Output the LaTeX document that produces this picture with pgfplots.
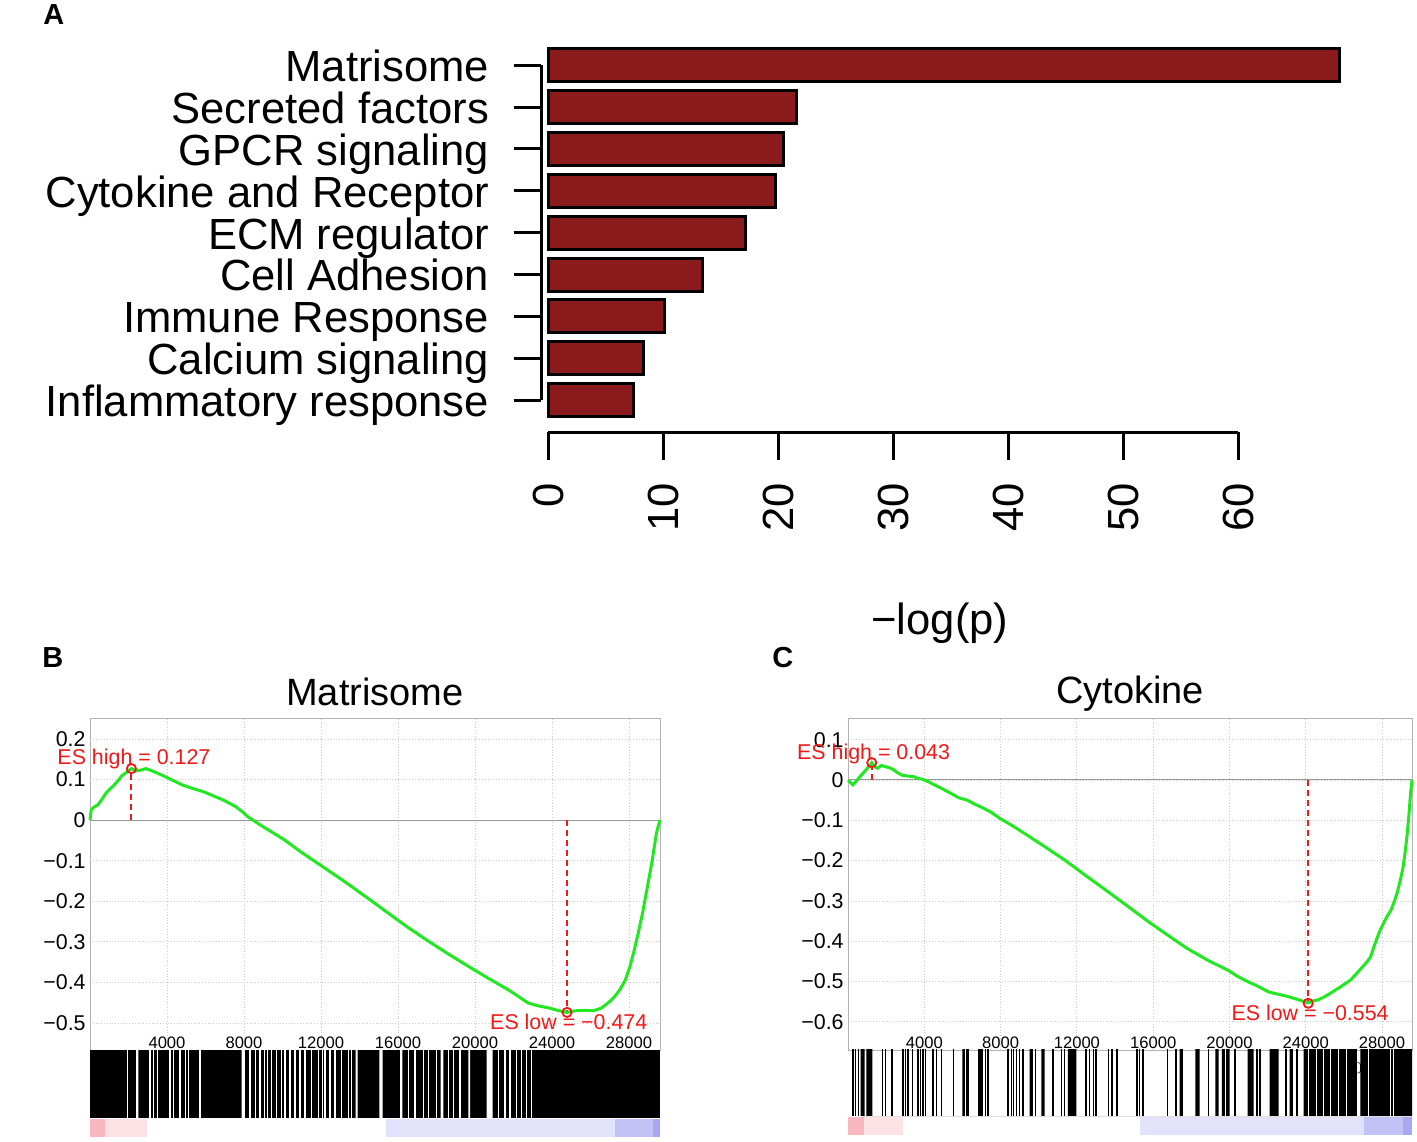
\documentclass[border=0pt]{standalone}
\usepackage{pgfplots}
\pgfplotsset{compat=1.18}
\usepackage{fontspec}
\setmainfont{Liberation Sans}
\definecolor{barred}{RGB}{139,26,28}
\definecolor{esgreen}{RGB}{34,232,34}
\definecolor{esred}{RGB}{242,24,24}
\definecolor{cpink}{RGB}{249,183,191}
\definecolor{clpink}{RGB}{253,226,229}
\definecolor{clav}{RGB}{226,226,251}
\definecolor{cmed}{RGB}{194,194,246}
\definecolor{cdark}{RGB}{168,168,240}
\newcommand\bigfont{\fontsize{21.8}{26}\selectfont}
\newcommand\esfont{\fontsize{10.7}{13}\selectfont}
\begin{document}
\begin{tikzpicture}
\useasboundingbox (0,0) rectangle (708.5pt,-570.5pt);
% ---------------- Panel A ----------------
\begin{axis}[
  at={(274pt,-200pt)}, anchor=south west,
  scale only axis, width=345pt, height=167.35pt,
  xmin=0, xmax=60, ymin=1, ymax=9,
  clip=false,
  axis x line=bottom, axis y line=left,
  axis line style={-, line width=1.5pt},
  axis x line shift=16pt, axis y line shift=3.5pt,
  xtick={0,10,20,30,40,50,60},
  xticklabels={0,10,20,30,40,50,60},
  ytick={1,2,3,4,5,6,7,8,9},
  yticklabels={Inflammatory response, Calcium signaling, Immune Response, Cell Adhesion, ECM regulator, Cytokine and Receptor, GPCR signaling, Secreted factors, Matrisome},
  tick align=outside, major tick length=13.75pt,
  every tick/.style={black, line width=1.5pt},
  tick label style={font=\bigfont},
  xticklabel style={rotate=90, anchor=east, inner sep=0pt},
  yticklabel style={anchor=base east, inner sep=0pt, yshift=-8.2pt},
  xticklabel shift=11.5pt,
  yticklabel shift=12pt,
  xlabel={−log(p)},
  xlabel style={font=\bigfont, at={(axis description cs:0.568,-0.70)}, anchor=base},
]
\addplot[xbar, bar width=16.5pt, bar shift=0pt, fill=barred, draw=black, line width=1.5pt] coordinates {
 (7.4,1) (8.3,2) (10.1,3) (13.4,4) (17.2,5) (19.8,6) (20.5,7) (21.6,8) (68.8,9)};
\end{axis}
% ---------------- Panel B ----------------
\begin{axis}[
  at={(45pt,-525pt)}, anchor=south west,
  scale only axis, width=285pt, height=166pt,
  xmin=0, xmax=29610, ymin=-0.5667, ymax=0.2517,
  clip=false,
  axis line style={draw=black!30, line width=0.5pt},
  xtick={4000,8000,12000,16000,20000,24000,28000},
  xticklabels={4000,8000,12000,16000,20000,24000,28000},
  ytick={-0.5,-0.4,-0.3,-0.2,-0.1,0,0.1,0.2},
  yticklabels={−0.5,−0.4,−0.3,−0.2,−0.1,0,0.1,0.2},
  major tick length=0pt,
  grid=major, grid style={densely dotted, black!20},
  xticklabel style={anchor=south, inner sep=0.6pt, font=\fontsize{8.3}{10}\selectfont},
  yticklabel style={anchor=east, inner sep=0pt, xshift=-2pt, font=\esfont},
  title={Matrisome},
  title style={at={(0.5,1)}, anchor=base, yshift=0.5pt, font=\fontsize{19}{23}\selectfont},
]
\addplot[black!40, line width=0.5pt] coordinates {(0,0) (29610,0)};
\addplot[esred, densely dashed, line width=0.9pt] coordinates {(2150,0) (2150,0.127)};
\addplot[esred, densely dashed, line width=0.9pt] coordinates {(24780,0) (24780,-0.474)};
\addplot[esgreen, line width=1.5pt] coordinates {
(0,0) (60,0.025) (200,0.032) (400,0.037) (600,0.05) (820,0.066) (1000,0.075) (1245,0.086) (1450,0.097) (1670,0.11) (1900,0.118) (2150,0.127) (2400,0.122) (2620,0.123) (2900,0.127) (3200,0.122) (3780,0.11) (4300,0.098) (4830,0.086) (5400,0.077) (5890,0.070) (6400,0.060) (6945,0.049) (7580,0.033) (7900,0.021) (8210,0.008) (8845,-0.012) (9500,-0.031) (10110,-0.049) (11000,-0.080) (12220,-0.119) (13300,-0.154) (14330,-0.189) (15400,-0.226) (16440,-0.262) (17500,-0.296) (18550,-0.328) (19600,-0.359) (20660,-0.389) (21720,-0.418) (22300,-0.436) (22770,-0.451) (23300,-0.458) (23830,-0.463) (24300,-0.469) (24780,-0.474) (25200,-0.470) (25730,-0.469) (26150,-0.470) (26575,-0.463) (27000,-0.447) (27250,-0.435) (27525,-0.418) (27800,-0.395) (28050,-0.361) (28275,-0.32) (28475,-0.279) (28700,-0.23) (28895,-0.180) (29050,-0.14) (29210,-0.098) (29420,-0.033) (29600,0)};
\addplot[only marks, mark=o, mark size=2.3pt, esred, mark options={line width=0.9pt}] coordinates {(2150,0.127) (24780,-0.474)};
\node[esred, anchor=base west, inner sep=0pt, font=\esfont] at (axis cs:-1710,0.136) {ES high = 0.127};
\node[esred, anchor=base west, inner sep=0pt, font=\esfont] at (axis cs:20770,-0.517) {ES low = −0.474};
\end{axis}
% hits B
\begin{axis}[
  at={(45pt,-559pt)}, anchor=south west,
  scale only axis, width=285pt, height=34pt,
  xmin=0, xmax=29610, ymin=0, ymax=1, hide axis,
]
\addplot[fill=black, draw=none] coordinates {(0,1) (29610,1)} \closedcycle;
\addplot[ybar interval, fill=white, draw=none] coordinates {(2390,1) (2510,0) (7880,1) (8050,0) (13800,1) (13907,0) (15030,1) (15205,0) (16105,1) (16225,0) (18220,1) (18355,0) (19655,1) (19740,0) (20607,1) (20918,0)};
\addplot[ycomb, white, line width=0.55pt, no marks] coordinates {
(1958,1) (3117,1) (3290,1) (3515,1) (4156,1) (4329,1) (4676,1) (4970,1) (5108,1) (5715,1) (8312,1) (8606,1) (8830,1) (9057,1) (9230,1) (9437,1) (9697,1) (9957,1) (10130,1) (10390,1) (10650,1) (10910,1) (11170,1) (11515,1) (11862,1) (12070,1) (12208,1) (12468,1) (12728,1) (13073,1) (13420,1) (13594,1) (16537,1) (16884,1) (17316,1) (17576,1) (18010,1) (18615,1) (18875,1) (19220,1) (21212,1) (21560,1) (21820,1) (22165,1) (22425,1) (22685,1) (22945,1)};
\end{axis}
% colour B
\begin{axis}[
  at={(45pt,-568.5pt)}, anchor=south west,
  scale only axis, width=285pt, height=9pt,
  xmin=0, xmax=29610, ymin=0, ymax=1, hide axis,
]
\addplot[fill=cpink, draw=none] coordinates {(0,1) (760,1)} \closedcycle;
\addplot[fill=clpink, draw=none] coordinates {(760,1) (2940,1)} \closedcycle;
\addplot[fill=clav, draw=none] coordinates {(15380,1) (27280,1)} \closedcycle;
\addplot[fill=cmed, draw=none] coordinates {(27280,1) (29250,1)} \closedcycle;
\addplot[fill=cdark, draw=none] coordinates {(29250,1) (29610,1)} \closedcycle;
\end{axis}
% ---------------- Panel C ----------------
\begin{axis}[
  at={(424pt,-525pt)}, anchor=south west,
  scale only axis, width=282pt, height=166pt,
  xmin=0, xmax=29570, ymin=-0.670, ymax=0.1538,
  clip=false,
  axis line style={draw=black!30, line width=0.5pt},
  xtick={4000,8000,12000,16000,20000,24000,28000},
  xticklabels={4000,8000,12000,16000,20000,24000,28000},
  ytick={-0.6,-0.5,-0.4,-0.3,-0.2,-0.1,0,0.1},
  yticklabels={−0.6,−0.5,−0.4,−0.3,−0.2,−0.1,0,0.1},
  major tick length=0pt,
  grid=major, grid style={densely dotted, black!20},
  xticklabel style={anchor=south, inner sep=0.6pt, font=\fontsize{8.3}{10}\selectfont},
  yticklabel style={anchor=east, inner sep=0pt, xshift=-2pt, font=\esfont},
  title={Cytokine},
  title style={at={(0.5,1)}, anchor=base, yshift=1.5pt, font=\fontsize{19}{23}\selectfont},
]
\addplot[black!40, line width=0.5pt] coordinates {(0,0) (29570,0)};
\addplot[esred, densely dashed, line width=0.9pt] coordinates {(1244,0) (1244,0.043)};
\addplot[esred, densely dashed, line width=0.9pt] coordinates {(24128,0) (24128,-0.554)};
\addplot[esgreen, line width=1.5pt] coordinates {
(0,0) (256,-0.012) (450,-0.002) (688,0.012) (850,0.02) (1009,0.029) (1244,0.043) (1400,0.033) (1543,0.029) (1750,0.036) (1970,0.033) (2200,0.03) (2398,0.025) (2600,0.018) (2825,0.012) (3100,0.01) (3466,0.008) (3650,0.004) (3893,0.002) (4200,-0.004) (4534,-0.012) (4950,-0.022) (5389,-0.033) (5800,-0.044) (6244,-0.050) (6650,-0.060) (7098,-0.070) (7500,-0.080) (7953,-0.095) (8600,-0.113) (9235,-0.132) (10300,-0.165) (11372,-0.199) (12400,-0.235) (13509,-0.273) (14600,-0.311) (15646,-0.348) (16700,-0.383) (17782,-0.418) (18850,-0.447) (19919,-0.472) (20450,-0.488) (20987,-0.501) (21500,-0.512) (22056,-0.526) (22600,-0.532) (23124,-0.538) (23600,-0.545) (24128,-0.553) (24400,-0.548) (24620,-0.546) (24900,-0.540) (25260,-0.530) (25800,-0.514) (26329,-0.497) (26650,-0.481) (26970,-0.464) (27200,-0.452) (27397,-0.439) (27600,-0.41) (27824,-0.381) (28050,-0.358) (28252,-0.339) (28466,-0.323) (28650,-0.30) (28786,-0.281) (28950,-0.25) (29107,-0.215) (29220,-0.175) (29321,-0.132) (29420,-0.08) (29492,-0.033) (29570,0)};
\addplot[only marks, mark=o, mark size=2.3pt, esred, mark options={line width=0.9pt}] coordinates {(1244,0.043) (24128,-0.554)};
\node[esred, anchor=base west, inner sep=0pt, font=\esfont] at (axis cs:-2688,0.051) {ES high = 0.043};
\node[esred, anchor=base west, inner sep=0pt, font=\esfont] at (axis cs:20090,-0.596) {ES low = −0.554};
\end{axis}
% hits C
\begin{axis}[
  at={(424pt,-558pt)}, anchor=south west,
  scale only axis, width=282pt, height=33.5pt,
  xmin=0, xmax=29570, ymin=0, ymax=1, hide axis,
]
\addplot[ybar interval, fill=black, draw=none] coordinates {(664,1) (874,0) (961,1) (1276,0) (5993,1) (6343,0) (6815,1) (7077,0) (9523,1) (9698,0) (10134,1) (10310,0) (11532,1) (11969,0) (17386,1) (17560,0) (18207,1) (18435,0) (19255,1) (19430,0) (19605,1) (20008,0) (20950,1) (21266,0) (22105,1) (22576,0) (23153,1) (23327,0) (23887,1) (26682,0) (26856,1) (29570,0)};
\addplot[ycomb, black, line width=0.8pt, no marks] coordinates {
(262,1) (402,1) (542,1) (1800,1) (1974,1) (2306,1) (2883,1) (3023,1) (3145,1) (3372,1) (3669,1) (3791,1) (3931,1) (4071,1) (4456,1) (4630,1) (4892,1) (5539,1) (7216,1) (7339,1) (8387,1) (8561,1) (8684,1) (8823,1) (9000,1) (9174,1) (9838,1) (10746,1) (11183,1) (11358,1) (12492,1) (12668,1) (12878,1) (13017,1) (13664,1) (13855,1) (14101,1) (15150,1) (15290,1) (15464,1) (16757,1) (17211,1) (18906,1) (20303,1) (21440,1) (21614,1) (22978,1) (23537,1)};
\addplot[ycomb, white, line width=0.5pt, no marks] coordinates {
(6170,1) (19800,1) (24149,1) (24585,1) (24934,1) (25283,1) (25720,1) (26158,1) (27295,1) (28430,1) (28604,1)};
\end{axis}
% colour C
\begin{axis}[
  at={(424pt,-567.5pt)}, anchor=south west,
  scale only axis, width=282pt, height=9pt,
  xmin=0, xmax=29570, ymin=0, ymax=1, hide axis,
]
\addplot[fill=cpink, draw=none] coordinates {(0,1) (822,1)} \closedcycle;
\addplot[fill=clpink, draw=none] coordinates {(822,1) (2883,1)} \closedcycle;
\addplot[fill=clav, draw=none] coordinates {(15307,1) (27050,1)} \closedcycle;
\addplot[fill=cmed, draw=none] coordinates {(27050,1) (29093,1)} \closedcycle;
\addplot[fill=cdark, draw=none] coordinates {(29093,1) (29570,1)} \closedcycle;
\end{axis}
% panel letters
\node[anchor=north west, inner sep=0pt, font=\bfseries\fontsize{14.5}{17}\selectfont] at (21.5pt,-2pt) {A};
\node[anchor=north west, inner sep=0pt, font=\bfseries\fontsize{14.5}{17}\selectfont] at (21pt,-323.5pt) {B};
\node[anchor=north west, inner sep=0pt, font=\bfseries\fontsize{14.5}{17}\selectfont] at (386pt,-323.5pt) {C};
\end{tikzpicture}
\end{document}
